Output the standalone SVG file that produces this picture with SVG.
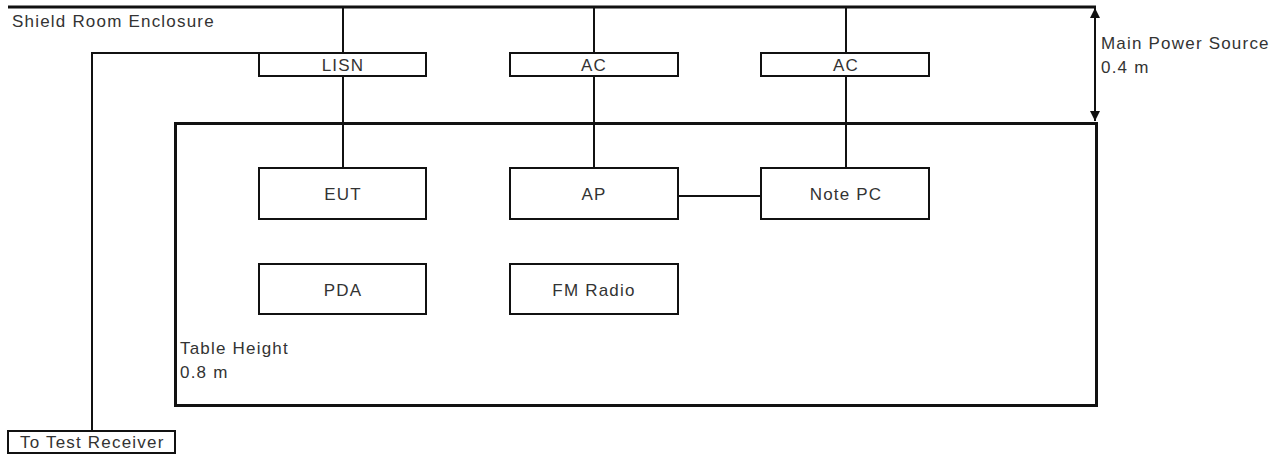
<svg xmlns="http://www.w3.org/2000/svg" width="1283" height="455" viewBox="0 0 1283 455">
<style>
.ln{fill:none;stroke:#111;stroke-width:2}
.bx{fill:#fff;stroke:#111;stroke-width:2}
.thk{fill:none;stroke:#111;stroke-width:3}
text{font-family:"Liberation Sans",Arial,sans-serif;font-size:17px;fill:#333;letter-spacing:1.2px}
.c{text-anchor:middle}
</style>
<defs>
<marker id="ah" viewBox="0 0 10 10" refX="10" refY="5" markerWidth="10" markerHeight="10" markerUnits="userSpaceOnUse" orient="auto-start-reverse">
<path d="M0,0 L10,5 L0,10 z" fill="#111"/>
</marker>
</defs>
<g id="connectors">
<line class="thk" x1="8" y1="7" x2="1096" y2="7"/>
<line class="ln" x1="1095" y1="8" x2="1095" y2="121" marker-start="url(#ah)" marker-end="url(#ah)"/>
<line class="ln" x1="343" y1="7" x2="343" y2="168"/>
<line class="ln" x1="594" y1="7" x2="594" y2="168"/>
<line class="ln" x1="846" y1="7" x2="846" y2="168"/>
<line class="ln" x1="679" y1="196" x2="761" y2="196"/>
<polyline class="ln" points="92,431 92,53 259,53"/>
</g>
<g id="shield-room">
<text x="12" y="27">Shield Room Enclosure</text>
</g>
<g id="main-power">
<text x="1101" y="49">Main Power Source</text>
<text x="1101" y="73">0.4 m</text>
</g>
<g id="table">
<rect class="thk" x="175.5" y="123.5" width="921" height="282"/>
<text x="180" y="354">Table Height</text>
<text x="180" y="378">0.8 m</text>
</g>
<g id="lisn">
<rect class="bx" x="259" y="53" width="167" height="23"/>
<text class="c" x="343" y="71">LISN</text>
</g>
<g id="ac1">
<rect class="bx" x="510" y="53" width="168" height="23"/>
<text class="c" x="594" y="71">AC</text>
</g>
<g id="ac2">
<rect class="bx" x="761" y="53" width="168" height="23"/>
<text class="c" x="846" y="71">AC</text>
</g>
<g id="eut">
<rect class="bx" x="259" y="168" width="167" height="51"/>
<text class="c" x="343" y="200">EUT</text>
</g>
<g id="ap">
<rect class="bx" x="510" y="168" width="168" height="51"/>
<text class="c" x="594" y="200">AP</text>
</g>
<g id="note-pc">
<rect class="bx" x="761" y="168" width="168" height="51"/>
<text class="c" x="846" y="200">Note PC</text>
</g>
<g id="pda">
<rect class="bx" x="259" y="264" width="167" height="50"/>
<text class="c" x="343" y="296">PDA</text>
</g>
<g id="fm-radio">
<rect class="bx" x="510" y="264" width="168" height="50"/>
<text class="c" x="594" y="296">FM Radio</text>
</g>
<g id="test-receiver">
<rect class="bx" x="8" y="431" width="167" height="22"/>
<text x="20" y="448">To Test Receiver</text>
</g>
</svg>
